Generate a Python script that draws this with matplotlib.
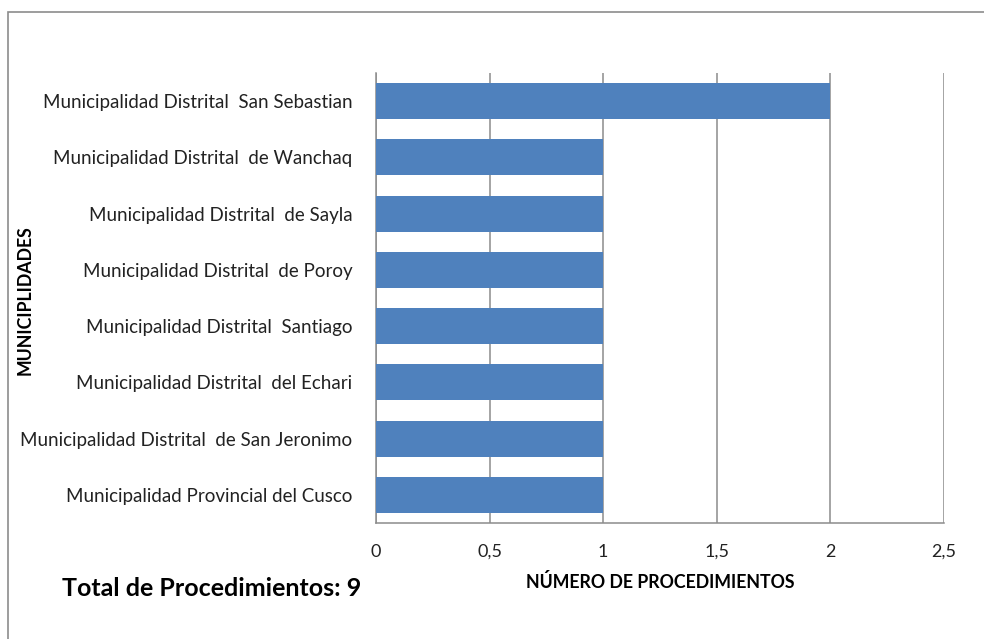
import matplotlib.pyplot as plt
from matplotlib.patches import Rectangle

municipalidades = [
    'Municipalidad Distrital  San Sebastian',
    'Municipalidad Distrital  de Wanchaq',
    'Municipalidad Distrital  de Sayla',
    'Municipalidad Distrital  de Poroy',
    'Municipalidad Distrital  Santiago',
    'Municipalidad Distrital  del Echari',
    'Municipalidad Distrital  de San Jeronimo',
    'Municipalidad Provincial del Cusco',
]
procedimientos = [2, 1, 1, 1, 1, 1, 1, 1]
xticks = [0, 0.5, 1, 1.5, 2, 2.5]
xtick_labels = ['0', '0,5', '1', '1,5', '2', '2,5']

plt.rcParams['font.family'] = ['Lato', 'DejaVu Sans']

fig = plt.figure(figsize=(9.84, 6.39), dpi=100)
ax = fig.add_axes([376 / 984, 1 - 523 / 639, (944 - 376) / 984, (523 - 73) / 639])

# outer chart frame
fig.patches.append(Rectangle((8 / 984, -0.1), 1.2, 1 - 12 / 639 + 0.1, transform=fig.transFigure,
                             fill=False, edgecolor='#8c8c8c', linewidth=1.2))

pos = list(range(len(municipalidades)))[::-1]
ax.barh(pos, procedimientos, height=0.64, color='#4f81bd', zorder=3)

ax.set_xlim(0, 2.5)
ax.set_ylim(-0.5, len(municipalidades) - 0.5)
ax.set_xticks(xticks)
ax.set_xticklabels(xtick_labels, fontsize=13)
ax.set_yticks(pos)
ax.set_yticklabels(municipalidades, fontsize=13.5)
ax.tick_params(axis='both', length=0, colors='#222222')
ax.tick_params(axis='x', pad=15)
ax.tick_params(axis='y', pad=17)
ax.grid(axis='x', color='#8c8c8c', linewidth=1.1, zorder=0)

for s in ['top', 'right']:
    ax.spines[s].set_visible(False)
for s in ['left', 'bottom']:
    ax.spines[s].set_color('#8c8c8c')
    ax.spines[s].set_linewidth(1.1)

fig.text(25 / 984, 1 - 300 / 639, 'MUNICIPLIDADES', rotation=90, fontsize=12.8,
         fontweight='bold', ha='center', va='center')
fig.text(660 / 984, 1 - 582 / 639, 'NÚMERO DE PROCEDIMIENTOS', fontsize=12.8,
         fontweight='bold', ha='center', va='center')
fig.text(62 / 984, 1 - 589 / 639, 'Total de Procedimientos: 9', fontsize=18,
         fontweight='bold', ha='left', va='center')

fig.savefig('out.png', dpi=100)
